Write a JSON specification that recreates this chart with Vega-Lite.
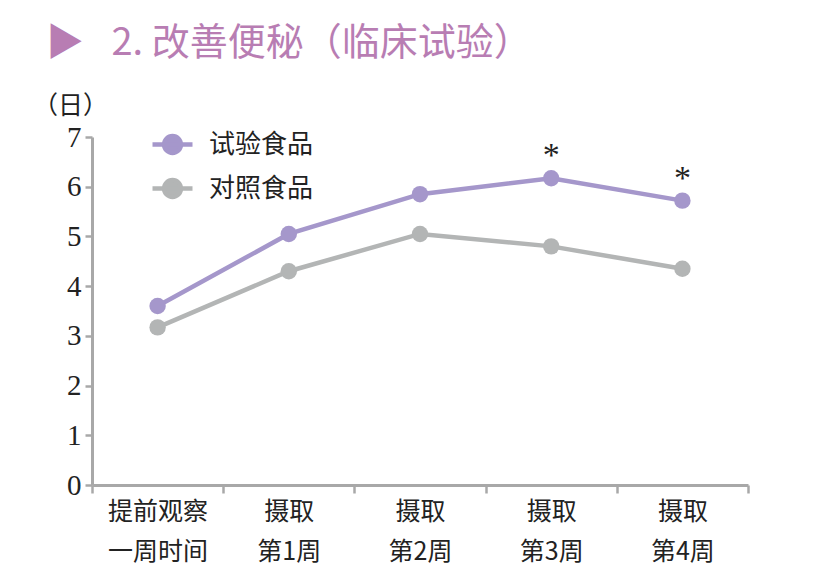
{
  "$schema": "https://vega.github.io/schema/vega-lite/v6.json",
  "width": 656,
  "height": 348,
  "autosize": "none",
  "padding": {"left": 92, "top": 137, "right": 69, "bottom": 101},
  "background": "white",
  "title": {
    "text": "▶\u2002\u00a02. 改善便秘（临床试验）",
    "anchor": "start",
    "frame": "group",
    "font": "Noto Sans CJK SC",
    "fontSize": 38,
    "fontWeight": "normal",
    "color": "#b87db3",
    "dx": -46,
    "offset": 30
  },
  "data": {
    "values": [
      {"week": "提前观察|一周时间", "group": "试验食品", "days": 3.6, "sig": ""},
      {"week": "摄取|第1周", "group": "试验食品", "days": 5.05, "sig": ""},
      {"week": "摄取|第2周", "group": "试验食品", "days": 5.85, "sig": ""},
      {"week": "摄取|第3周", "group": "试验食品", "days": 6.17, "sig": "*"},
      {"week": "摄取|第4周", "group": "试验食品", "days": 5.72, "sig": "*"},
      {"week": "提前观察|一周时间", "group": "对照食品", "days": 3.17, "sig": ""},
      {"week": "摄取|第1周", "group": "对照食品", "days": 4.3, "sig": ""},
      {"week": "摄取|第2周", "group": "对照食品", "days": 5.05, "sig": ""},
      {"week": "摄取|第3周", "group": "对照食品", "days": 4.8, "sig": ""},
      {"week": "摄取|第4周", "group": "对照食品", "days": 4.35, "sig": ""}
    ]
  },
  "encoding": {
    "x": {
      "field": "week",
      "type": "nominal",
      "sort": null,
      "scale": {"type": "band", "paddingInner": 0, "paddingOuter": 0},
      "axis": {
        "title": null,
        "labelAngle": 0,
        "labelExpr": "split(datum.label, '|')",
        "labelFont": "Noto Sans CJK SC",
        "labelFontSize": 25,
        "labelColor": "#222222",
        "labelLineHeight": 40,
        "labelPadding": 6,
        "labelBaseline": "top",
        "tickBand": "extent",
        "domainColor": "#a8a8a8",
        "domainWidth": 3,
        "tickColor": "#a8a8a8",
        "tickWidth": 2.5,
        "tickSize": 8,
        "grid": false
      }
    },
    "y": {
      "field": "days",
      "type": "quantitative",
      "scale": {"domain": [0, 7]},
      "axis": {
        "values": [0, 1, 2, 3, 4, 5, 6, 7],
        "title": "（日）",
        "titleAngle": 0,
        "titleX": -22,
        "titleY": -32,
        "titleAlign": "center",
        "titleBaseline": "middle",
        "titleFont": "Noto Sans CJK SC",
        "titleFontSize": 25,
        "titleFontWeight": "normal",
        "titleColor": "#222222",
        "labelFont": "Liberation Serif",
        "labelFontSize": 29,
        "labelColor": "#222222",
        "labelPadding": 4,
        "domainColor": "#a8a8a8",
        "domainWidth": 3,
        "tickColor": "#a8a8a8",
        "tickWidth": 2.5,
        "tickSize": 7,
        "grid": false
      }
    }
  },
  "layer": [
    {
      "mark": {"type": "line", "strokeWidth": 4.5},
      "encoding": {
        "color": {
          "field": "group",
          "type": "nominal",
          "scale": {"domain": ["试验食品", "对照食品"], "range": ["#a597cb", "#b3b5b5"]},
          "legend": {
            "title": null,
            "orient": "none",
            "legendX": 58,
            "legendY": -15,
            "symbolType": "M-1,0H1M0.42,0A0.42,0.42 0 1 1 -0.42,0A0.42,0.42 0 1 1 0.42,0",
            "symbolSize": 1600,
            "symbolStrokeWidth": 4.5,
            "labelFont": "Noto Sans CJK SC",
            "labelFontSize": 26,
            "labelColor": "#222222",
            "labelOffset": 14,
            "rowPadding": 4
          }
        }
      }
    },
    {
      "mark": {"type": "point", "filled": true, "size": 270, "opacity": 1},
      "encoding": {
        "color": {"field": "group", "type": "nominal"}
      }
    },
    {
      "transform": [{"filter": "datum.sig != ''"}],
      "mark": {"type": "text", "font": "Liberation Serif", "fontSize": 34, "dy": -22, "color": "#222222"},
      "encoding": {"text": {"field": "sig"}}
    }
  ],
  "config": {"view": {"stroke": null}}
}
